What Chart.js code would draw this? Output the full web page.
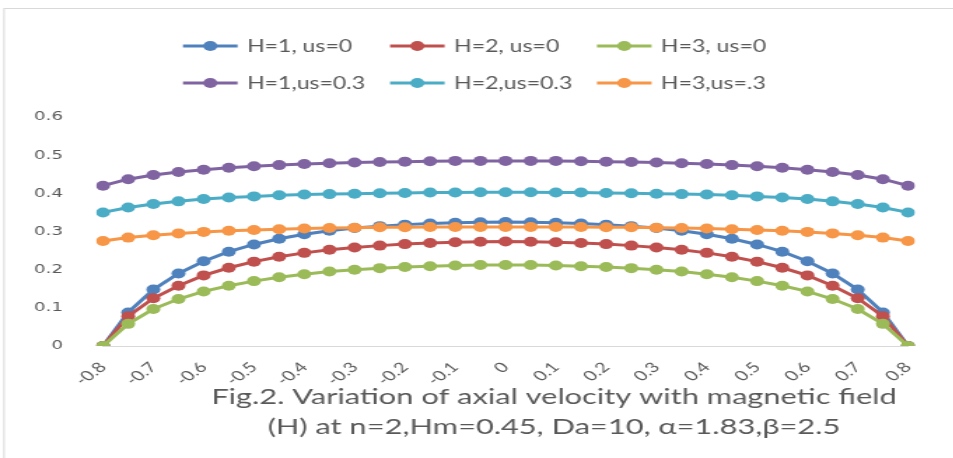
<!DOCTYPE html>
<html>
<head>
<meta charset="utf-8">
<script src="https://cdn.jsdelivr.net/npm/chart.js@4"></script>
<style>
html,body{margin:0;padding:0;background:#fff;overflow:hidden;}
#wrap{width:681px;height:458px;transform:scaleX(1.4);transform-origin:0 0;}
canvas{display:block;}
</style>
</head>
<body>
<div id="wrap"><canvas id="c" width="681" height="458"></canvas></div>
<script>
const xLabels = ['-0.8','-0.75','-0.7','-0.65','-0.6','-0.55','-0.5','-0.45','-0.4','-0.35','-0.3','-0.25','-0.2','-0.15','-0.1','-0.05','0','0.05','0.1','0.15','0.2','0.25','0.3','0.35','0.4','0.45','0.5','0.55','0.6','0.65','0.7','0.75','0.8'];
const seriesNames = ['H=1, us=0','H=2, us=0','H=3, us=0','H=1,us=0.3','H=2,us=0.3','H=3,us=.3'];
const seriesColors = ['#4F81BD','#C0504D','#9BBB59','#8064A2','#4BACC6','#F79646'];
const h1us0 = [0,0.088,0.148,0.19,0.222,0.247,0.266,0.281,0.293,0.302,0.309,0.314,0.318,0.321,0.323,0.324,0.325,0.324,0.323,0.321,0.318,0.314,0.309,0.302,0.293,0.281,0.266,0.247,0.222,0.19,0.148,0.088,0];
const h2us0 = [0,0.078,0.125,0.158,0.185,0.205,0.221,0.234,0.244,0.252,0.258,0.263,0.267,0.27,0.272,0.273,0.274,0.273,0.272,0.27,0.267,0.263,0.258,0.252,0.244,0.234,0.221,0.205,0.185,0.158,0.125,0.078,0];
const h3us0 = [0,0.058,0.097,0.123,0.143,0.158,0.17,0.18,0.188,0.195,0.2,0.204,0.207,0.209,0.211,0.212,0.212,0.212,0.211,0.209,0.207,0.204,0.2,0.195,0.188,0.18,0.17,0.158,0.143,0.123,0.097,0.058,0];
const h1us03 = [0.42,0.437,0.448,0.456,0.462,0.467,0.471,0.474,0.477,0.479,0.481,0.482,0.483,0.484,0.485,0.485,0.485,0.485,0.485,0.484,0.483,0.482,0.481,0.479,0.477,0.474,0.471,0.467,0.462,0.456,0.448,0.437,0.42];
const h2us03 = [0.35,0.363,0.372,0.379,0.385,0.389,0.392,0.395,0.397,0.398,0.399,0.4,0.401,0.402,0.402,0.403,0.403,0.403,0.402,0.402,0.401,0.4,0.399,0.398,0.397,0.395,0.392,0.389,0.385,0.379,0.372,0.363,0.35];
const h3us03 = [0.275,0.284,0.29,0.295,0.299,0.302,0.304,0.306,0.308,0.309,0.31,0.311,0.311,0.312,0.312,0.312,0.312,0.312,0.312,0.312,0.311,0.311,0.31,0.309,0.308,0.306,0.304,0.302,0.299,0.295,0.29,0.284,0.275];
const yTicks = [0,0.1,0.2,0.3,0.4,0.5,0.6];
const captionLines = ['Fig.2. Variation of axial velocity with magnetic field','(H) at n=2,Hm=0.45, Da=10, \u03B1=1.83,\u03B2=2.5'];

const allSeries = [h1us0,h2us0,h3us0,h1us03,h2us03,h3us03];
const datasets = allSeries.map((d,i)=>({
  label: seriesNames[i],
  data: d,
  borderColor: seriesColors[i],
  backgroundColor: seriesColors[i],
  borderWidth: 3,
  pointRadius: 5,
  pointBorderWidth: 0,
  pointHoverRadius: 5,
  tension: 0,
  order: 5 - i
}));

const TEXT = '#595959';

const decor = {
  id: 'decor',
  beforeDraw(chart){
    const ctx = chart.ctx;
    ctx.save();
    ctx.strokeStyle = '#d9d9d9';
    ctx.lineWidth = 1;
    ctx.strokeRect(2.9, 8.5, 2000, 2000);
    ctx.restore();
  },
  afterDraw(chart){
    const ctx = chart.ctx;
    ctx.save();
    // legend
    const cols = [130.7, 278.6, 426.4];
    const rows = [46, 83];
    ctx.font = '16.5px Lato';
    ctx.textBaseline = 'middle';
    ctx.textAlign = 'left';
    chart.data.datasets.forEach((ds,i)=>{
      const x = cols[i%3], y = rows[Math.floor(i/3)];
      ctx.strokeStyle = ds.borderColor;
      ctx.lineWidth = 3;
      ctx.beginPath(); ctx.moveTo(x,y); ctx.lineTo(x+39,y); ctx.stroke();
      ctx.fillStyle = ds.backgroundColor;
      ctx.beginPath(); ctx.arc(x+19.5,y,5,0,Math.PI*2); ctx.fill();
      ctx.fillStyle = TEXT;
      ctx.fillText(ds.label, x+45.7, y+1);
    });
    // caption
    ctx.font = '22px Lato';
    ctx.textAlign = 'center';
    ctx.fillStyle = TEXT;
    ctx.fillText(captionLines[0], 395.7, 397);
    ctx.fillText(captionLines[1], 395.7, 427);
    ctx.restore();
  }
};

new Chart(document.getElementById('c'), {
  type: 'line',
  data: { labels: xLabels, datasets },
  plugins: [decor],
  options: {
    responsive: false,
    animation: false,
    devicePixelRatio: 1,
    layout: { padding: { top: 117, right: 32.4, bottom: 0, left: 0 } },
    plugins: { legend: { display: false }, tooltip: { enabled: false }, title: { display: false } },
    scales: {
      x: {
        type: 'category',
        offset: false,
        grid: { display: false, drawTicks: false },
        border: { display: true, color: '#d9d9d9', width: 1 },
        ticks: {
          autoSkip: false,
          minRotation: 45,
          maxRotation: 45,
          padding: 13,
          color: TEXT,
          font: { family: 'Lato', size: 14 },
          callback: function(v, idx){ return idx % 2 === 0 ? this.getLabelForValue(v) : ''; }
        },
        afterFit(scale){ scale.height = 112; }
      },
      y: {
        min: 0, max: 0.6,
        afterBuildTicks(scale){ scale.ticks = yTicks.map(v=>({value:v})); },
        grid: { display: false, drawTicks: false },
        border: { display: false },
        ticks: {
          padding: 28.6,
          color: TEXT,
          font: { family: 'DejaVu Sans', size: 13 },
          callback: v => v === 0 ? '0' : v.toFixed(1)
        },
        afterFit(scale){ scale.width = 73.6; }
      }
    }
  }
});
</script>
</body>
</html>
